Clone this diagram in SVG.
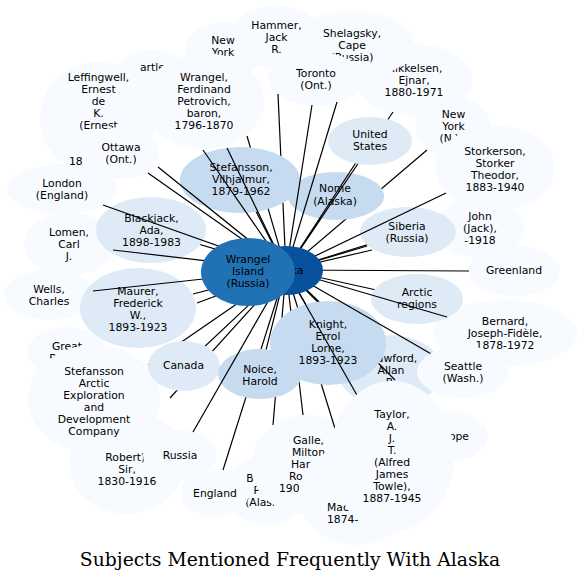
<svg xmlns="http://www.w3.org/2000/svg" width="582" height="582" viewBox="0 0 582 582">
<style>
.p{fill:#f7fbff}
.l{fill:#deebf7}
.m{fill:#c6dbef}
text{font-family:"DejaVu Sans",Verdana,sans-serif;font-size:10.8px;fill:#000;text-anchor:middle}
text.s{text-anchor:start}
.e line{stroke:#000;stroke-width:1.2}
text.title{font-family:"DejaVu Serif",serif;font-size:18.8px}
</style>
<rect width="582" height="582" fill="#fff"/>
<g id="nodes-back">
<g id="n-bartlett"><ellipse class="p" cx="152" cy="78" rx="38" ry="28"/><text class="s" x="140" y="71">artle</text></g>
<g id="n-mikkelsen"><ellipse class="p" cx="414" cy="80" rx="58" ry="36"/><text><tspan x="414" y="72">Mikkelsen,</tspan><tspan x="414" y="84">Ejnar,</tspan><tspan x="414" y="96">1880-1971</tspan></text></g>
<g id="n-shelagsky"><ellipse class="p" cx="352" cy="45" rx="62" ry="34"/><text><tspan x="352" y="37">Shelagsky,</tspan><tspan x="352" y="49">Cape</tspan><tspan x="352" y="61">(Russia)</tspan></text></g>
<g id="n-hammer"><ellipse class="p" cx="276" cy="37" rx="45" ry="32"/><text><tspan x="276.5" y="29">Hammer,</tspan><tspan x="276.5" y="41">Jack</tspan><tspan x="276.5" y="53">R.</tspan></text></g>
<g id="n-newyork1"><ellipse class="p" cx="223" cy="52" rx="38" ry="30"/><text><tspan x="223" y="44">New</tspan><tspan x="223" y="56">York</tspan><tspan x="223" y="68">(N.Y.)</tspan></text></g>
<g id="n-toronto"><ellipse class="p" cx="316" cy="79" rx="48" ry="27"/><text><tspan x="316" y="77">Toronto</tspan><tspan x="316" y="88.5">(Ont.)</tspan></text></g>
<g id="n-newyork2"><ellipse class="p" cx="453" cy="127" rx="38" ry="30"/><text><tspan x="453.5" y="118">New</tspan><tspan x="453.5" y="130">York</tspan><tspan x="453.5" y="142">(N.Y.)</tspan></text></g>
<g id="n-hadley"><ellipse class="p" cx="480" cy="228" rx="45" ry="30"/><text><tspan x="480" y="220">John</tspan><tspan x="480" y="232">(Jack),</tspan><tspan x="480" y="244">-1918</tspan></text></g>
<g id="n-storkerson"><ellipse class="p" cx="495" cy="168" rx="60" ry="42"/><text><tspan x="495" y="154.5">Storkerson,</tspan><tspan x="495" y="166.5">Storker</tspan><tspan x="495" y="178.5">Theodor,</tspan><tspan x="495" y="190.5">1883-1940</tspan></text></g>
<g id="n-greenland"><ellipse class="p" cx="514" cy="271" rx="46" ry="25"/><text x="514" y="274">Greenland</text></g>
<g id="n-bernard"><ellipse class="p" cx="505" cy="333" rx="72" ry="33"/><text><tspan x="505" y="325">Bernard,</tspan><tspan x="505" y="337">Joseph-Fidèle,</tspan><tspan x="505" y="349">1878-1972</tspan></text></g>
<g id="n-europe"><ellipse class="p" cx="450" cy="436" rx="38" ry="25"/><text x="450" y="440">Europe</text></g>
<g id="n-london"><ellipse class="p" cx="62" cy="189" rx="55" ry="25"/><text><tspan x="62" y="187">London</tspan><tspan x="62" y="198.5">(England)</tspan></text></g>
<g id="n-leffingwell"><ellipse class="p" cx="98" cy="118" rx="58" ry="56"/><text><tspan x="98.5" y="81">Leffingwell,</tspan><tspan x="98.5" y="93">Ernest</tspan><tspan x="98.5" y="105">de</tspan><tspan x="98.5" y="117">K.</tspan><tspan x="98.5" y="129">(Ernest</tspan></text><text class="s" x="69" y="165">18</text></g>
<g id="n-ottawa"><ellipse class="p" cx="121" cy="153" rx="38" ry="26"/><text><tspan x="121" y="151">Ottawa</tspan><tspan x="121" y="163">(Ont.)</tspan></text></g>
<g id="n-wrangel-f"><ellipse class="p" cx="204" cy="101" rx="60" ry="48"/><text><tspan x="204" y="81">Wrangel,</tspan><tspan x="204" y="93">Ferdinand</tspan><tspan x="204" y="105">Petrovich,</tspan><tspan x="204" y="117">baron,</tspan><tspan x="204" y="129">1796-1870</tspan></text></g>
<g id="n-lomen"><ellipse class="p" cx="69" cy="244" rx="45" ry="32"/><text><tspan x="69" y="236">Lomen,</tspan><tspan x="69" y="248">Carl</tspan><tspan x="69" y="260">J.</tspan></text></g>
<g id="n-wells"><ellipse class="p" cx="49" cy="295" rx="45" ry="25"/><text><tspan x="49" y="292.5">Wells,</tspan><tspan x="49" y="304.5">Charles</tspan></text></g>
<g id="n-greatbritain"><ellipse class="p" cx="67" cy="352" rx="40" ry="25"/><text><tspan x="67" y="350">Great</tspan><tspan x="67" y="362">Britain</tspan></text></g>
<g id="n-markham"><ellipse class="p" cx="127" cy="462" rx="58" ry="52"/><text><tspan x="127" y="461">Robert),</tspan><tspan x="127" y="472.5">Sir,</tspan><tspan x="127" y="484.5">1830-1916</tspan></text></g>
<g id="n-sae"><ellipse class="p" cx="94" cy="399" rx="66" ry="54"/><text><tspan x="94" y="375">Stefansson</tspan><tspan x="94" y="387">Arctic</tspan><tspan x="94" y="399">Exploration</tspan><tspan x="94" y="411">and</tspan><tspan x="94" y="423">Development</tspan><tspan x="94" y="435">Company</tspan></text></g>
<g id="n-russia"><ellipse class="p" cx="180" cy="455" rx="37" ry="25"/><text x="180" y="459">Russia</text></g>
<g id="n-barrow"><ellipse class="p" cx="267" cy="490" rx="42" ry="35"/><text><tspan x="267" y="482">Barrow,</tspan><tspan x="267" y="494">Point</tspan><tspan x="267" y="506">(Alaska)</tspan></text></g>
<g id="n-england"><ellipse class="p" cx="215" cy="493" rx="34" ry="24"/><text x="215" y="497">England</text></g>
<g id="n-galle"><ellipse class="p" cx="308" cy="465" rx="57" ry="50"/><text><tspan x="308.5" y="444">Galle,</tspan><tspan x="308.5" y="456">Milton</tspan></text><text class="s"><tspan x="291" y="468">Har</tspan><tspan x="289" y="480">Ro</tspan><tspan x="279" y="492">190</tspan></text></g>
<g id="n-macmillan"><ellipse class="p" cx="356" cy="495" rx="57" ry="50"/><text class="s"><tspan x="327" y="511">Mac</tspan><tspan x="327" y="523">1874-</tspan></text></g>
<g id="n-crawford"><ellipse class="l" cx="390" cy="371" rx="52" ry="36"/><text><tspan x="391" y="362">Crawford,</tspan><tspan x="391" y="374">Allan</tspan><tspan x="391" y="386">R.</tspan></text></g>
</g>
<g id="edges-back" class="e">
<line x1="286" y1="270" x2="247" y2="136"/>
<line x1="286" y1="270" x2="278" y2="94"/>
<line x1="286" y1="270" x2="427" y2="150"/>
<line x1="286" y1="270" x2="367" y2="246"/>
<line x1="286" y1="270" x2="372" y2="250"/>
<line x1="286" y1="270" x2="395" y2="380"/>
<line x1="286" y1="270" x2="337" y2="435"/>
<line x1="286" y1="270" x2="303" y2="415"/>
<line x1="286" y1="270" x2="273" y2="425"/>
<line x1="286" y1="270" x2="223" y2="470"/>
<line x1="286" y1="270" x2="170" y2="398"/>
<line x1="286" y1="270" x2="148" y2="365"/>
<line x1="286" y1="270" x2="197" y2="303"/>
<line x1="286" y1="270" x2="240" y2="180"/>
<line x1="286" y1="270" x2="336" y2="196"/>
<line x1="286" y1="270" x2="408" y2="232"/>
<line x1="286" y1="270" x2="417" y2="299"/>
<line x1="286" y1="270" x2="151" y2="230"/>
<line x1="286" y1="270" x2="328" y2="343"/>
<line x1="286" y1="270" x2="260" y2="374"/>
<line x1="286" y1="270" x2="184" y2="366"/>
<line x1="286" y1="270" x2="370" y2="351"/>
</g>
<g id="nodes-mid">
<g id="n-stefansson"><ellipse class="m" cx="240" cy="180" rx="60" ry="33"/><text><tspan x="241" y="171">Stefansson,</tspan><tspan x="241" y="183">Vilhjalmur,</tspan><tspan x="241" y="195">1879-1962</tspan></text></g>
<g id="n-nome"><ellipse class="m" cx="336" cy="196" rx="48" ry="24"/><text><tspan x="335" y="192">Nome</tspan><tspan x="335" y="205">(Alaska)</tspan></text></g>
<g id="n-siberia"><ellipse class="l" cx="408" cy="232" rx="48" ry="25"/><text><tspan x="407" y="230">Siberia</tspan><tspan x="407" y="242">(Russia)</tspan></text></g>
<g id="n-arctic"><ellipse class="l" cx="417" cy="299" rx="46" ry="25"/><text><tspan x="417" y="296">Arctic</tspan><tspan x="417" y="308">regions</tspan></text></g>
<g id="n-blackjack"><ellipse class="l" cx="151" cy="230" rx="55" ry="33"/><text><tspan x="151.5" y="222">Blackjack,</tspan><tspan x="151.5" y="234">Ada,</tspan><tspan x="151.5" y="246">1898-1983</tspan></text></g>
<g id="n-maurer"><ellipse class="l" cx="138" cy="308" rx="58" ry="40"/><text><tspan x="138" y="295">Maurer,</tspan><tspan x="138" y="307">Frederick</tspan><tspan x="138" y="319">W.,</tspan><tspan x="138" y="331">1893-1923</tspan></text></g>
<g id="n-canada"><ellipse class="l" cx="184" cy="366" rx="36" ry="25"/><text x="183.5" y="369">Canada</text></g>
<g id="n-noice"><ellipse class="m" cx="260" cy="374" rx="42" ry="25"/><text><tspan x="260" y="373">Noice,</tspan><tspan x="260" y="384.5">Harold</tspan></text></g>
<g id="n-knight"><ellipse class="m" cx="328" cy="343" rx="58" ry="42"/><text><tspan x="328" y="328">Knight,</tspan><tspan x="328" y="340">Errol</tspan><tspan x="328" y="352">Lorne,</tspan><tspan x="328" y="364">1893-1923</tspan></text></g>
</g>
<g id="edges-front" class="e">
<line x1="286" y1="270" x2="203" y2="150"/>
<line x1="286" y1="270" x2="227" y2="148"/>
<line x1="286" y1="270" x2="312" y2="105"/>
<line x1="286" y1="270" x2="337" y2="102"/>
<line x1="286" y1="270" x2="393" y2="112"/>
<line x1="286" y1="270" x2="370" y2="141"/>
<line x1="286" y1="270" x2="446" y2="193"/>
<line x1="286" y1="270" x2="469" y2="271"/>
<line x1="286" y1="270" x2="447" y2="317"/>
<line x1="286" y1="270" x2="433" y2="355"/>
<line x1="286" y1="270" x2="358" y2="397"/>
<line x1="286" y1="270" x2="193" y2="432"/>
<line x1="286" y1="270" x2="93" y2="291"/>
<line x1="286" y1="270" x2="193" y2="294"/>
<line x1="286" y1="270" x2="113" y2="250"/>
<line x1="286" y1="270" x2="103" y2="205"/>
<line x1="286" y1="270" x2="148" y2="173"/>
<line x1="286" y1="270" x2="158" y2="167"/>
</g>
<g id="nodes-front">
<g id="n-unitedstates"><ellipse class="l" cx="370" cy="141" rx="42" ry="24"/><text><tspan x="370" y="138">United</tspan><tspan x="370" y="150">States</tspan></text></g>
<g id="n-taylor"><ellipse class="p" cx="392" cy="456" rx="62" ry="75"/><text><tspan x="392" y="418">Taylor,</tspan><tspan x="392" y="430">A.</tspan><tspan x="392" y="442">J.</tspan><tspan x="392" y="454">T.</tspan><tspan x="392" y="466">(Alfred</tspan><tspan x="392" y="478">James</tspan><tspan x="392" y="490">Towle),</tspan><tspan x="392" y="502">1887-1945</tspan></text></g>
<g id="n-seattle"><ellipse class="p" cx="463" cy="372" rx="46" ry="26"/><text><tspan x="463" y="370">Seattle</tspan><tspan x="463" y="381.5">(Wash.)</tspan></text></g>
<g id="n-alaska"><ellipse cx="286" cy="270.5" rx="37" ry="24.5" fill="#08519c"/><text x="286" y="274">Alaska</text></g>
<g id="n-wrangel-island"><ellipse cx="248" cy="272" rx="47" ry="34" fill="#2171b5"/><text><tspan x="248" y="263">Wrangel</tspan><tspan x="248" y="275">Island</tspan><tspan x="248" y="287">(Russia)</tspan></text></g>
</g>
<text class="title" x="290" y="566">Subjects Mentioned Frequently With Alaska</text>
</svg>
